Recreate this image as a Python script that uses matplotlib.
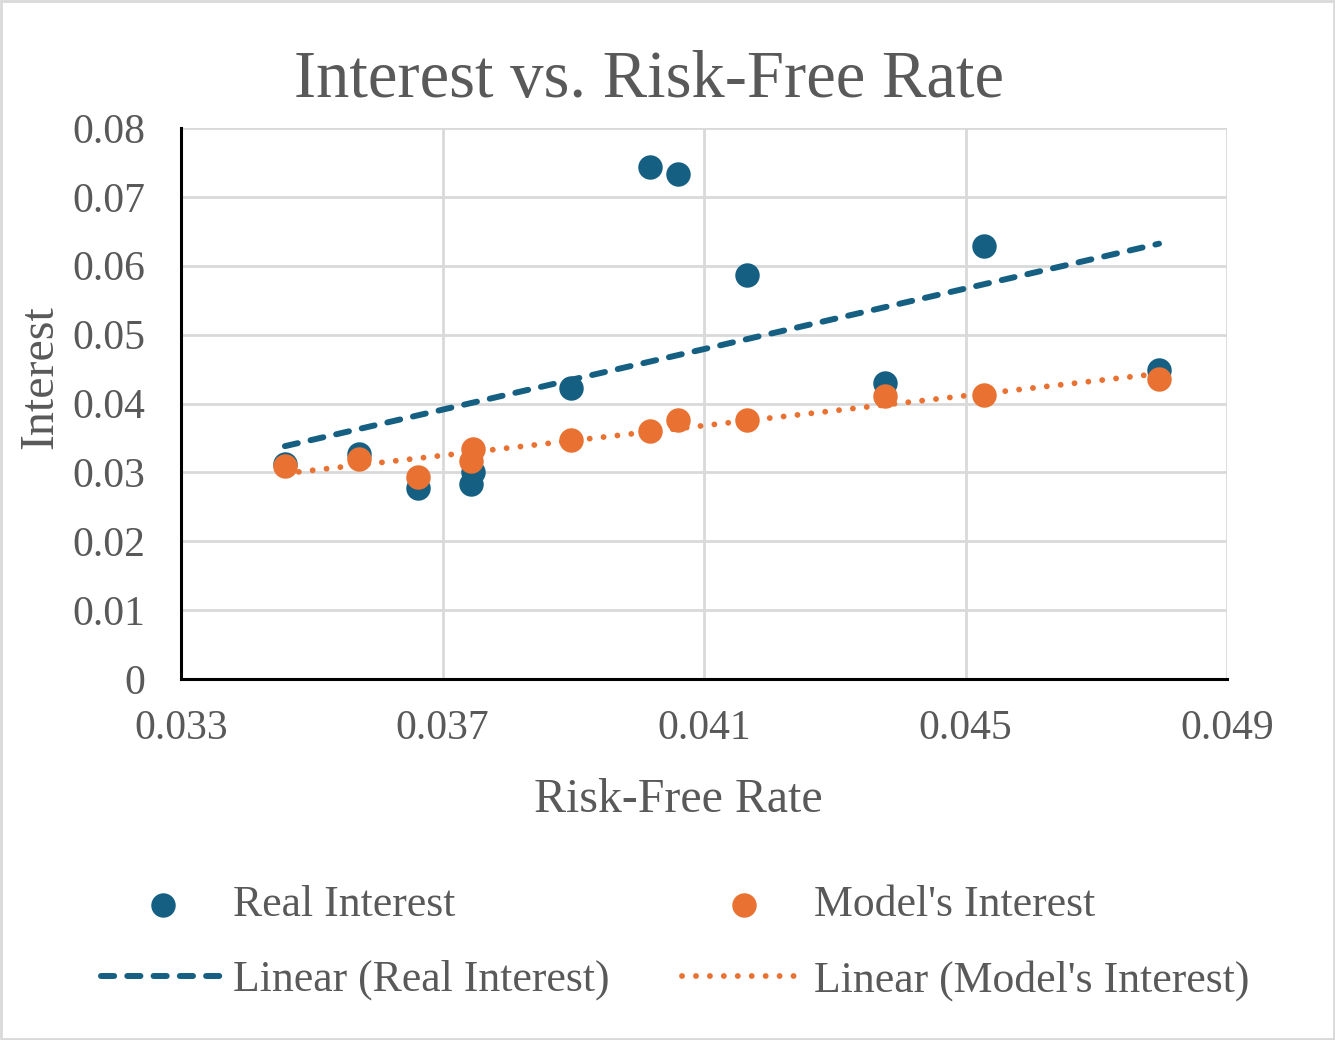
import matplotlib
matplotlib.use("Agg")
import matplotlib.pyplot as plt
import numpy as np
from matplotlib.patches import Rectangle

# values
risk_free = [0.03459, 0.03572, 0.03663, 0.03744, 0.03747, 0.03897,
             0.04017, 0.04060, 0.04166, 0.04377, 0.04528, 0.04796]
real_interest = [0.0312, 0.0327, 0.0277, 0.0283, 0.0300, 0.0422,
                 0.0743, 0.0733, 0.0586, 0.0430, 0.0628, 0.0449]
model_interest = [0.0309, 0.0319, 0.0293, 0.0316, 0.0334, 0.0347,
                  0.0360, 0.0376, 0.0376, 0.0411, 0.0412, 0.0435]
x_ticks = [0.033, 0.037, 0.041, 0.045, 0.049]
y_ticks = [0, 0.01, 0.02, 0.03, 0.04, 0.05, 0.06, 0.07, 0.08]

BLUE = "#156082"
ORANGE = "#E97132"
TEXT = "#595959"
GRID = "#d9d9d9"

plt.rcParams["font.family"] = ["Liberation Serif", "DejaVu Serif"]

fig = plt.figure(figsize=(13.35, 10.4), dpi=100)
ax = fig.add_axes([181 / 1335, 1 - 679 / 1040, (1227 - 181) / 1335, (679 - 128) / 1040])

x = np.array(risk_free)
xs = np.array([x.min(), x.max()])

# trendlines (least squares, like Excel's linear trendline)
k1, b1 = np.polyfit(x, real_interest, 1)
k2, b2 = np.polyfit(x, model_interest, 1)
ax.plot(xs, k1 * xs + b1, color=BLUE, lw=4.3, ls=(0, (2.2, 2.2)),
        dash_capstyle="round", zorder=2, label="Linear (Real Interest)")
ax.plot(xs, k2 * xs + b2, color=ORANGE, lw=4.2, ls=(0, (0.01, 2.38)),
        dash_capstyle="round", zorder=2, label="Linear (Model's Interest)")

ax.scatter(x, real_interest, s=310, color=BLUE, zorder=3, linewidths=0,
           label="Real Interest")
ax.scatter(x, model_interest, s=310, color=ORANGE, zorder=4, linewidths=0,
           label="Model's Interest")

ax.set_xlim(0.033, 0.049)
ax.set_ylim(0, 0.08)
ax.set_xticks(x_ticks)
ax.set_xticklabels([f"{t:g}" for t in x_ticks])
ax.set_yticks(y_ticks)
ax.set_yticklabels([f"{t:g}" for t in y_ticks])
ax.tick_params(length=0, labelsize=30, labelcolor=TEXT)
ax.tick_params(axis="y", pad=26)
ax.tick_params(axis="x", pad=22)
ax.grid(True, color=GRID, lw=2)
ax.set_axisbelow(True)
for side in ("top", "right"):
    ax.spines[side].set_visible(False)
for side in ("left", "bottom"):
    ax.spines[side].set_linewidth(2.2)
    ax.spines[side].set_color("black")
    ax.spines[side].set_zorder(5)

ax.set_xlabel("Risk-Free Rate", fontsize=34.5, color=TEXT, va="center", ha="center")
ax.xaxis.set_label_coords((678 - 181) / 1046, -(800 - 679) / 551)
ax.set_ylabel("Interest", fontsize=34.5, color=TEXT, va="center", ha="center")
ax.yaxis.set_label_coords((40 - 181) / 1046, (679 - 377) / 551)

fig.text(649 / 1335, 1 - 81 / 1040, "Interest vs. Risk-Free Rate", fontsize=48,
         color=TEXT, ha="center", va="center")

h, l = ax.get_legend_handles_labels()
order = [2, 0, 3, 1]
fig.legend([h[i] for i in order], [l[i] for i in order], ncol=2,
           loc="center", bbox_to_anchor=(675 / 1335, 1 - 943 / 1040),
           frameon=False, fontsize=31.5, labelcolor=TEXT, handlelength=2.86,
           handletextpad=0.16, columnspacing=1.65, labelspacing=0.8)

fig.patches.append(Rectangle((0.001, 0.001), 0.998, 0.998, transform=fig.transFigure,
                             fill=False, edgecolor=GRID, lw=2))

fig.savefig("out.png", dpi=100)
